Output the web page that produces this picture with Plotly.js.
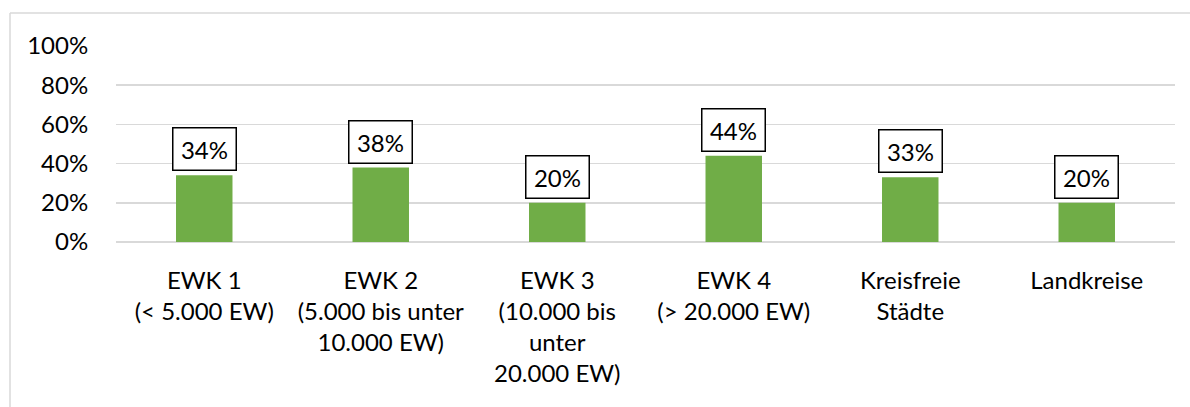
<!DOCTYPE html>
<html>
<head>
<meta charset="utf-8">
<script src="https://cdn.plot.ly/plotly-3.0.1.min.js"></script>
<style>
html,body{margin:0;padding:0;background:#fff;}
#chart{width:1190px;height:407px;}
</style>
</head>
<body>
<div id="chart"></div>
<script>
const categories = [
  "EWK 1<br>(< 5.000 EW)",
  "EWK 2<br>(5.000 bis unter<br>10.000 EW)",
  "EWK 3<br>(10.000 bis<br>unter<br>20.000 EW)",
  "EWK 4<br>(> 20.000 EW)",
  "Kreisfreie<br>Städte",
  "Landkreise"
];
const values = [0.34, 0.38, 0.20, 0.44, 0.33, 0.20];
const labels = ["34%", "38%", "20%", "44%", "33%", "20%"];
const yTickVals = [0, 0.2, 0.4, 0.6, 0.8, 1.0];
const yTickText = ["0%", "20%", "40%", "60%", "80%", "100%"];

const FONT = "Lato, 'Open Sans', sans-serif";

const trace = {
  type: "bar",
  x: categories,
  y: values,
  marker: {color: "#70ad47"},
  width: 0.32,
  hoverinfo: "skip"
};

const annotations = categories.map((c, i) => ({
  x: c, y: values[i], xref: "x", yref: "y",
  text: labels[i], showarrow: false,
  yanchor: "bottom", yshift: 4,
  font: {family: FONT, size: 24, color: "#000"},
  bgcolor: "#fff", bordercolor: "#000", borderwidth: 1.5,
  borderpad: 6, width: 50
}));

const layout = {
  width: 1190, height: 407,
  margin: {l: 116, r: 15, t: 46, b: 165},
  paper_bgcolor: "#fff", plot_bgcolor: "#fff",
  showlegend: false,
  font: {family: FONT, size: 24, color: "#000"},
  xaxis: {
    type: "category",
    showgrid: false, zeroline: false,
    showline: false,
    ticks: "outside", ticklen: 17, tickcolor: "rgba(0,0,0,0)",
    tickfont: {family: FONT, size: 24, color: "#000"},
    tickangle: 0, automargin: false
  },
  yaxis: {
    range: [0, 1],
    tickvals: yTickVals, ticktext: yTickText,
    showgrid: true, gridcolor: "#d9d9d9", gridwidth: 1.5,
    zeroline: true, zerolinecolor: "#d9d9d9", zerolinewidth: 2,
    showline: false,
    ticks: "outside", ticklen: 22, tickcolor: "rgba(0,0,0,0)",
    tickfont: {family: FONT, size: 24, color: "#000"},
    automargin: false, fixedrange: true
  },
  bargap: 0.68,
  annotations: annotations,
  shapes: [
    {type: "line", xref: "paper", yref: "paper",
     x0: -106/1059, x1: 1.2, y0: 1 + 33/196, y1: 1 + 33/196,
     line: {color: "#d9d9d9", width: 1.5}},
    {type: "line", xref: "paper", yref: "paper",
     x0: -106/1059, x1: -106/1059, y0: 1 + 33/196, y1: -1,
     line: {color: "#d9d9d9", width: 1.5}}
  ]
};

Plotly.newPlot("chart", [trace], layout, {staticPlot: true, displayModeBar: false});
</script>
</body>
</html>
